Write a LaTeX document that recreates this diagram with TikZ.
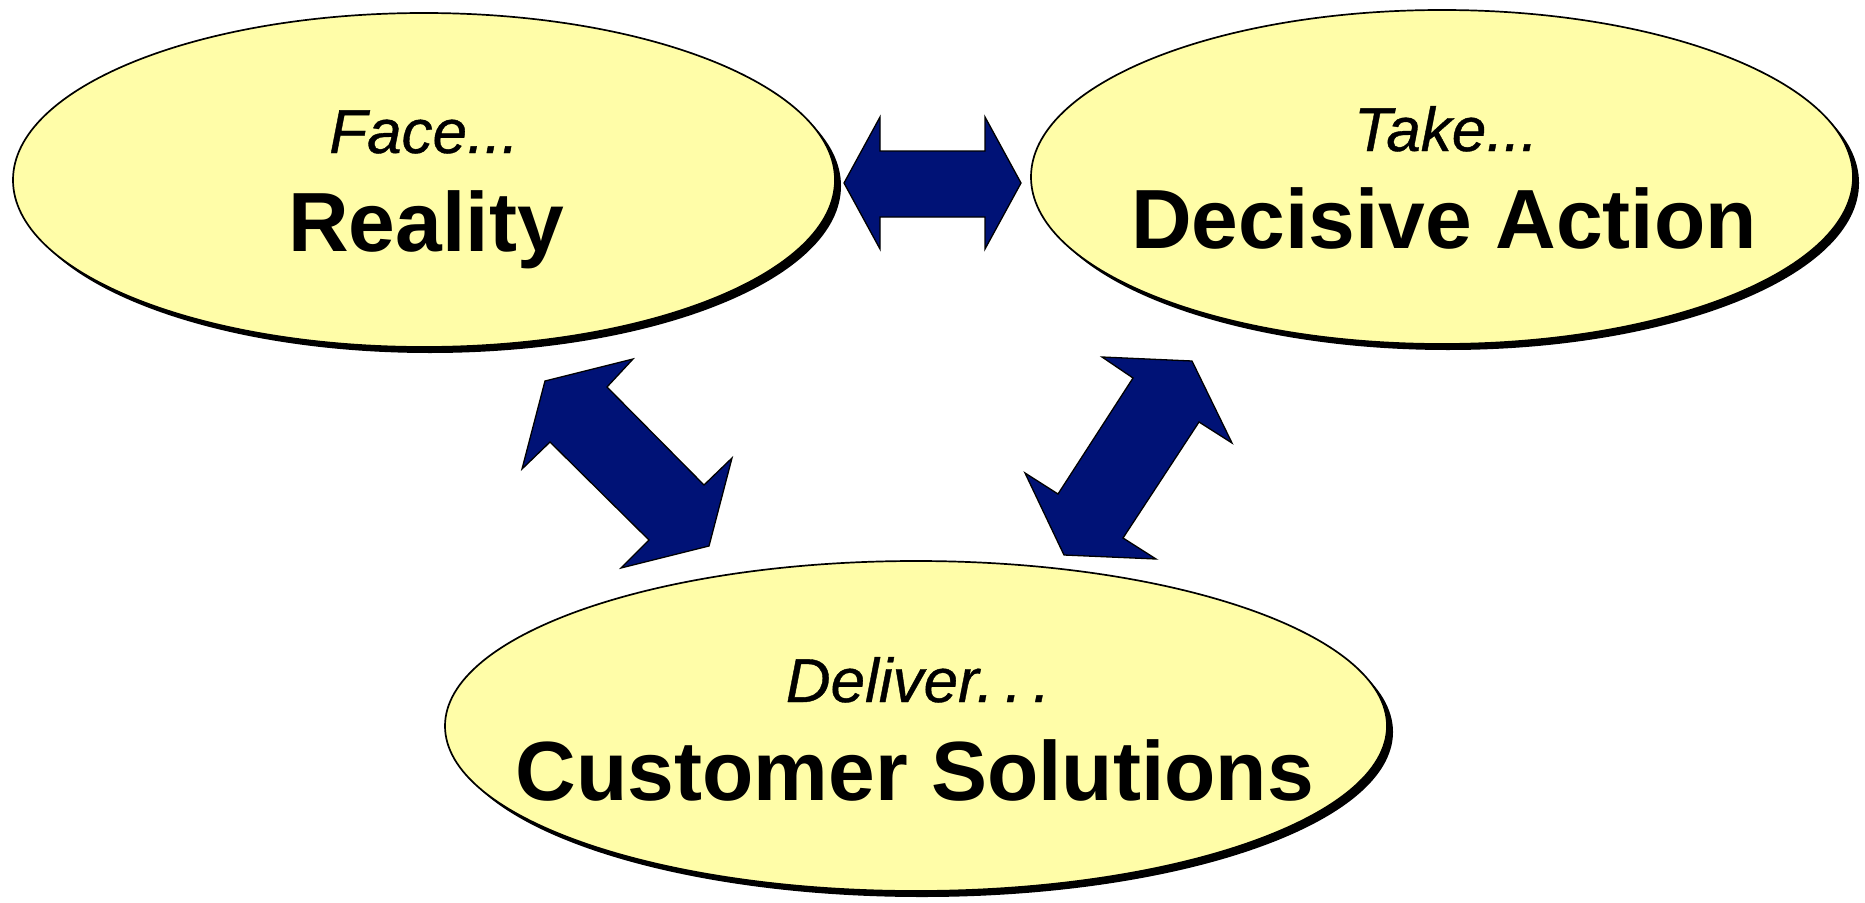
\documentclass[tikz,border=0pt]{standalone}
\usepackage{fontspec}
\setmainfont{Liberation Sans}
\newfontfamily\leadfont{Liberation Sans}[FakeBold=0.6]
\usetikzlibrary{shapes.geometric,shadows}
\definecolor{bubblefill}{RGB}{255,253,168}
\definecolor{navyfill}{RGB}{0,18,118}

\begin{document}
\begin{tikzpicture}[x=1pt,y=-1pt,
  bubble/.style={ellipse, draw=black, line width=1.7pt, fill=bubblefill,
    inner sep=0pt, outer sep=0pt,
    drop shadow={shadow xshift=6pt, shadow yshift=-6pt, fill=black, opacity=1}},
  lead/.style={font=\leadfont\itshape\fontsize{62}{62}\selectfont, anchor=base, inner sep=0pt},
  headline/.style={font=\bfseries\fontsize{84}{84}\selectfont, anchor=base, inner sep=0pt},
  blockarrow/.style={fill=navyfill, draw=black, line width=1.3pt, line join=miter}]

  \useasboundingbox (0,0) rectangle (1865,902);

  % the three ellipses
  \node[bubble, minimum width=822pt, minimum height=334pt] (reality) at (424,180) {};
  \node[bubble, minimum width=822pt, minimum height=334pt] (action) at (1442,177) {};
  \node[bubble, minimum width=942pt, minimum height=330pt] (solutions) at (916,726) {};

  % captions
  \node[lead] (faceT) at (424,153) {Face...};
  \node[headline] (realityT) at (426,251) {Reality};
  \node[lead] (takeT) at (1446,151) {Take...};
  \node[headline] (actionT) at (1444,248) {Decisive Action};
  \node[lead] (deliverT) at (918,702) {Deliver.\kern11pt.\kern11pt.};
  \node[headline] (solT) at (915,800) {Customer Solutions};

  % horizontal double arrow between the top ellipses
  \draw[blockarrow] (844,183) -- (880,117) -- (880,151) -- (985,151) -- (985,117)
    -- (1021,183) -- (985,249) -- (985,217) -- (880,217) -- (880,249) -- cycle;

  % left diagonal double arrow
  \draw[blockarrow] (545,381) -- (633,359) -- (607,387) -- (704,485) -- (732,458)
    -- (709,546) -- (621,568) -- (649,540) -- (550,442) -- (522,469) -- cycle;

  % right diagonal double arrow
  \draw[blockarrow] (1102,357) -- (1192,361) -- (1232,443) -- (1199,422) -- (1123,538)
    -- (1156,559) -- (1064,555) -- (1025,473) -- (1058,494) -- (1133,378) -- cycle;
\end{tikzpicture}
\end{document}
